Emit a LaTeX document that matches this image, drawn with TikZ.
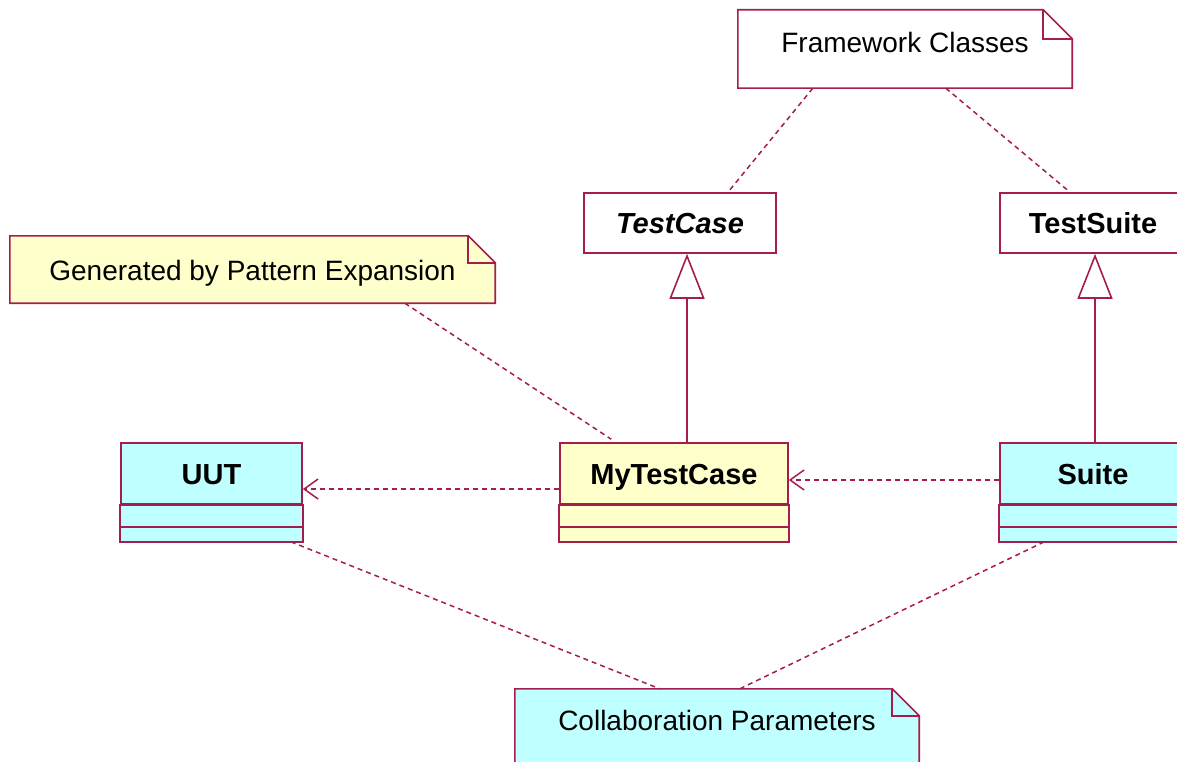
\documentclass[tikz,border=0pt]{standalone}
\usepackage{fontspec}
\setmainfont{Liberation Sans}
\usetikzlibrary{arrows.meta,calc,backgrounds}
\definecolor{umlline}{RGB}{165,30,75}
\definecolor{umlcyan}{RGB}{192,255,255}
\definecolor{umlyellow}{RGB}{255,255,204}
\tikzset{
 txt/.style={font=\fontsize{28}{32}\selectfont},
 btxt/.style={font=\fontsize{29}{32}\selectfont\bfseries},
 classname/.style={draw=umlline, line width=1.6pt, inner sep=0pt, btxt, text height=24pt, text depth=3pt},
 compart/.style={draw=umlline, line width=1.6pt},
 notebox/.style={inner sep=0pt, txt, text height=24pt, text depth=3pt},
 noteline/.style={draw=umlline, line width=1.6pt},
 anchorline/.style={draw=umlline, line width=1.5pt, dash pattern=on 5pt off 4pt},
 dep/.style={anchorline, -{Straight Barb[length=14pt,width=20pt]}},
 gen/.style={draw=umlline, line width=1.6pt, -{Triangle[open,length=45pt,width=35pt,fill=white]}},
}
\newcommand\umlnote[4]{%
 \path[noteline, fill=#4] (#1.north west) -- ($(#1.north east)+(-#3,0)$) -- ($(#1.north east)+(0,#3)$) -- ($(#1.south east)+(0,#2)$) -- ($(#1.south west)+(0,#2)$) -- cycle;
 \draw[noteline] ($(#1.north east)+(-#3,0)$) |- ($(#1.north east)+(0,#3)$);}
\begin{document}
\begin{tikzpicture}[x=1pt,y=-1pt]
\clip (0,0) rectangle (1177,762);
% notes
\node[notebox, minimum width=334pt, minimum height=64pt] (fw) at (905,42) {Framework Classes};
\node[notebox, minimum width=485pt, minimum height=67pt] (gn) at (252.5,269.5) {Generated by Pattern Expansion};
\node[notebox, minimum width=404pt, minimum height=62pt] (cn) at (717,720) {Collaboration Parameters};
\begin{scope}[on background layer]
 \fill[white] (0,0) rectangle (1177,762);
 \umlnote{fw}{14}{29}{white}
 \umlnote{gn}{0}{27}{umlyellow}
 \umlnote{cn}{60}{27}{umlcyan}
\end{scope}
% classes
\node[classname, fill=white, minimum width=192pt, minimum height=60pt] (tc) at (680,223) {\itshape TestCase};
\node[classname, fill=white, minimum width=186pt, minimum height=60pt] (ts) at (1093,223) {TestSuite};
\node[classname, fill=umlcyan, minimum width=181pt, minimum height=61pt] (uut) at (211.5,473.5) {UUT};
\node[classname, fill=umlyellow, minimum width=228pt, minimum height=61pt] (mytc) at (674,473.5) {MyTestCase};
\node[classname, fill=umlcyan, minimum width=186pt, minimum height=61pt] (suite) at (1093,473.5) {Suite};
\foreach \n/\c in {uut/umlcyan, mytc/umlyellow, suite/umlcyan}{
 \draw[compart, fill=\c] (\n.south west) rectangle ($(\n.south east)+(0,22)$);
 \draw[compart, fill=\c] ($(\n.south west)+(0,22)$) rectangle ($(\n.south east)+(0,37)$);
}
% connectors
\draw[anchorline] ($(fw.south west)+(75,14)$) -- ($(tc.north)+(48,0)$);
\draw[anchorline] ($(fw.south west)+(208,14)$) -- ($(ts.north)+(-23,0)$);
\draw[anchorline] ($(gn.south west)+(395,0)$) -- ($(mytc.north west)+(52,-3)$);
\draw[anchorline] ($(uut.south east)+(-12,37)$) -- ($(cn.north west)+(145,0)$);
\draw[anchorline] ($(suite.south west)+(45,37)$) -- ($(cn.north west)+(225,0)$);
\draw[dep] ($(mytc.west)+(0,15.5)$) -- ($(uut.east)+(0,15.5)$);
\draw[dep] ($(suite.west)+(0,6.5)$) -- ($(mytc.east)+(0,6.5)$);
\draw[gen] ($(mytc.north)+(13,0)$) -- ($(tc.south)+(7,0)$);
\draw[gen] ($(suite.north)+(2,0)$) -- ($(ts.south)+(2,0)$);
\end{tikzpicture}
\end{document}
